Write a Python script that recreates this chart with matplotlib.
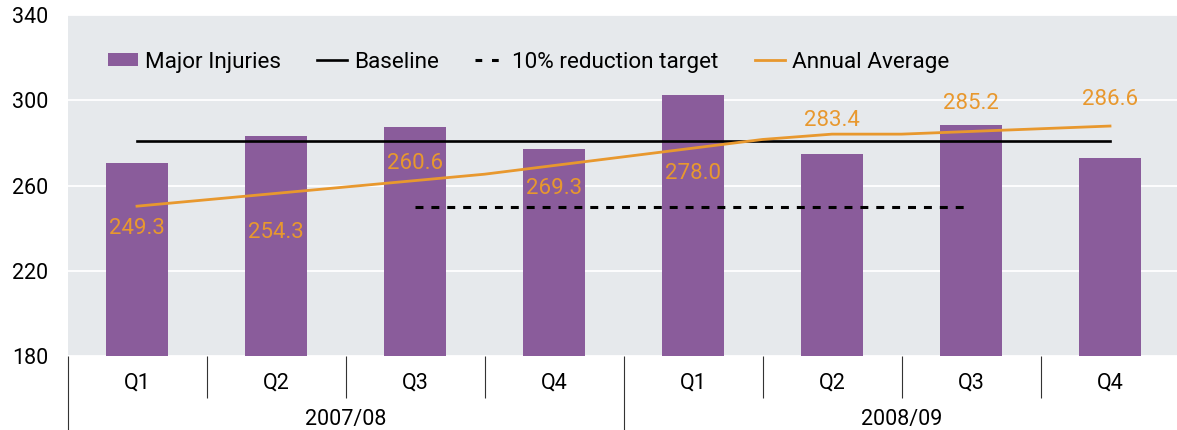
import matplotlib
matplotlib.use("Agg")
import matplotlib.pyplot as plt
from matplotlib import font_manager
from matplotlib.patches import Patch
from matplotlib.lines import Line2D

# === Data ===
quarters = ["Q1", "Q2", "Q3", "Q4", "Q1", "Q2", "Q3", "Q4"]
years = ["2007/08", "2008/09"]
major_injuries = [270.6, 283.1, 287.3, 276.9, 302.3, 274.7, 288.3, 272.8]
baseline_value = 281.1
target_value = 250.0
target_first_quarter = 2   # Q3 2007/08
target_last_quarter = 6    # Q3 2008/09
# annual average line as drawn (quarter index, value)
avg_line_quarter = [0, 2.5, 4.5, 5, 5.5, 7]
avg_line_value = [250.3, 265.3, 281.6, 284.1, 284.1, 287.9]
# printed annual average labels, one per quarter
avg_labels = [249.3, 254.3, 260.6, 269.3, 278.0, 283.4, 285.2, 286.6]
avg_label_offset = [-14.4, -24.8, 15.1, -16.6, -19.1, 10.8, 20.6, 21.2]  # points

# === Style ===
PURPLE = "#8A5C9B"
ORANGE = "#E8982E"
BG = "#E6E9EC"

names = {f.name for f in font_manager.fontManager.ttflist}
main_font = "Liberation Sans Narrow" if "Liberation Sans Narrow" in names else "Roboto"
plt.rcParams["font.family"] = [main_font, "DejaVu Sans"]

W, H = 1177, 430
fig = plt.figure(figsize=(W / 100, H / 100), dpi=100)
ax = fig.add_axes([67.5 / W, 74 / H, 1112 / W, 341 / H])
ax.set_facecolor(BG)

x = list(range(len(major_injuries)))

# === Plot ===
ax.bar(x, major_injuries, width=0.44, color=PURPLE, zorder=2)
ax.plot([x[0], x[-1]], [baseline_value, baseline_value], color="black", lw=1.9, zorder=3)
ax.plot([target_first_quarter, target_last_quarter], [target_value, target_value],
        color="black", lw=2.2, dashes=(2.6, 2.6), zorder=3)
ax.plot(avg_line_quarter, avg_line_value, color=ORANGE, lw=2.0, zorder=4)

for i, (val, off) in enumerate(zip(avg_labels, avg_label_offset)):
    ax.annotate(f"{val:.1f}", (i, val), xytext=(0, off), textcoords="offset points",
                ha="center", va="center", color=ORANGE, fontsize=16, zorder=5)

# === Axes ===
ax.set_xlim(-0.5, 7.5)
ax.set_ylim(180, 340)
ax.set_yticks([180, 220, 260, 300, 340])
ax.yaxis.grid(True, color="white", lw=1.3)
ax.set_axisbelow(True)
ax.tick_params(axis="y", length=0, pad=13.7, labelsize=15.5)
for s in ax.spines.values():
    s.set_visible(False)

# category separators below the plot
ax.set_xticks([-0.5, 3.5, 7.5])
ax.set_xticks([0.5, 1.5, 2.5, 4.5, 5.5, 6.5], minor=True)
ax.tick_params(axis="x", which="major", length=53, width=0.8, color="#333333",
               labelbottom=False)
ax.tick_params(axis="x", which="minor", length=30, width=0.8, color="#333333")

for i, q in enumerate(quarters):
    ax.annotate(q, (i, 0), xycoords=("data", "axes fraction"), xytext=(0, -19.4),
                textcoords="offset points", ha="center", va="center", fontsize=15.5,
                annotation_clip=False)
for j, yr in enumerate(years):
    ax.annotate(yr, (j * 4 + 1.5, 0), xycoords=("data", "axes fraction"),
                xytext=(0, -46), textcoords="offset points", ha="center",
                va="center", fontsize=15.5, annotation_clip=False)

# === Legend ===
handles = [
    Patch(facecolor=PURPLE),
    Line2D([], [], color="black", lw=1.9),
    Line2D([], [], color="black", lw=2.2, dashes=(2.2, 3.2)),
    Line2D([], [], color=ORANGE, lw=2.0),
]
labels = ["Major Injuries", "Baseline", "10% reduction target", "Annual Average"]
ax.legend(handles, labels, loc="center left", bbox_to_anchor=(0.0364, 0.862),
          ncol=4, frameon=False, borderpad=0, borderaxespad=0, fontsize=16.2,
          handlelength=1.35, handleheight=0.55, handletextpad=0.3, columnspacing=1.6)

fig.savefig("out.png", dpi=100)
